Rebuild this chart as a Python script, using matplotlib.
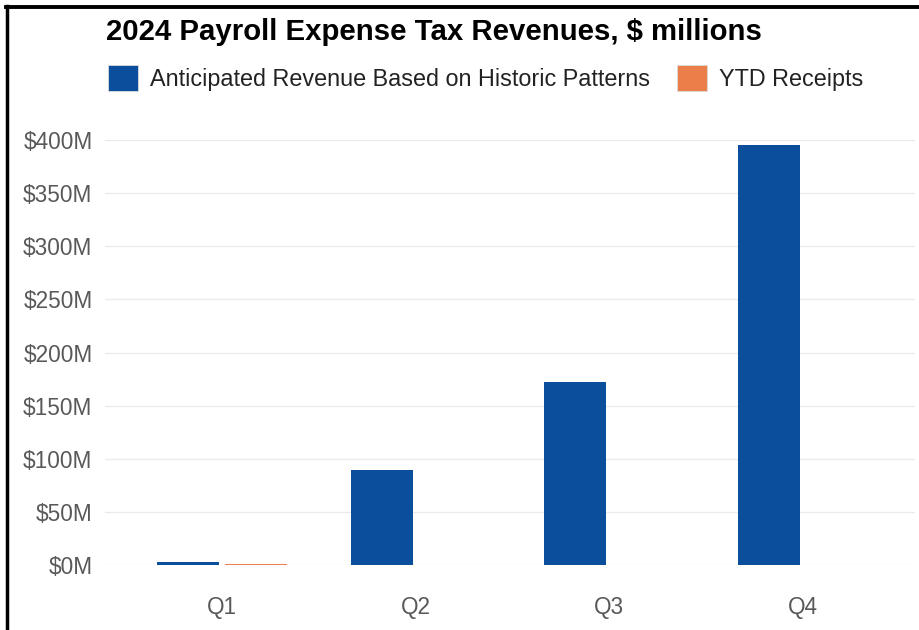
import matplotlib
matplotlib.use("Agg")
import matplotlib.pyplot as plt
from matplotlib.patches import Patch
from matplotlib.lines import Line2D
import numpy as np

quarters = ["Q1", "Q2", "Q3", "Q4"]
anticipated = [2.5, 89, 172, 395]
ytd_receipts = [1.2, 0, 0, 0]
y_ticks = [0, 50, 100, 150, 200, 250, 300, 350, 400]
y_tick_labels = ["$0M", "$50M", "$100M", "$150M", "$200M", "$250M", "$300M", "$350M", "$400M"]

BLUE = "#0b4f9c"
ORANGE = "#eb7f4a"
TICK_GRAY = "#595959"

plt.rcParams["font.family"] = ["Liberation Sans", "DejaVu Sans"]

W, H = 919, 630
fig = plt.figure(figsize=(W / 100, H / 100), dpi=100)
fig.patch.set_facecolor("white")

ax = fig.add_axes([105 / W, (H - 565) / H, (915 - 105) / W, (565 - 140) / H])

x = np.arange(len(quarters))
width = 0.32
offset = 0.176
ax.bar(x - offset, anticipated, width, color=BLUE, zorder=3)
ax.bar(x + offset, ytd_receipts, width, color=ORANGE, zorder=3)

ax.set_xlim(-0.604, 3.578)
ax.set_ylim(0, 400)
ax.set_yticks(y_ticks)
ax.set_yticklabels(y_tick_labels)
ax.set_xticks(x)
ax.set_xticklabels(quarters)
ax.tick_params(axis="y", length=0, pad=9, labelsize=16.3, labelcolor=TICK_GRAY)
ax.tick_params(axis="x", length=0, pad=22, labelsize=16.3, labelcolor=TICK_GRAY)
ax.grid(axis="y", color="#ebebeb", linewidth=1, zorder=0)
for s in ax.spines.values():
    s.set_visible(False)

fig.text(106 / W, 1 - 32 / H, "2024 Payroll Expense Tax Revenues, $ millions",
         fontsize=21.2, fontweight="bold", ha="left", va="center", color="black")

handles = [Patch(facecolor=BLUE, edgecolor="#dddddd", linewidth=0.6),
           Patch(facecolor=ORANGE, edgecolor="#dddddd", linewidth=0.6)]
fig.legend(handles, ["Anticipated Revenue Based on Historic Patterns", "YTD Receipts"],
           loc="center left", bbox_to_anchor=(108 / W, 1 - 78 / H), ncol=2,
           frameon=False, fontsize=16.8, borderpad=0, borderaxespad=0,
           handlelength=1.3, handleheight=1.3,
           handletextpad=0.5, columnspacing=1.15, labelcolor="#222222")

# frame lines along the top and left edges
fig.add_artist(Line2D([6 / W, 1], [1 - 7 / H, 1 - 7 / H], color="black", linewidth=2.8,
                      transform=fig.transFigure))
fig.add_artist(Line2D([7 / W, 7 / W], [0, 1 - 6 / H], color="black", linewidth=2.5,
                      transform=fig.transFigure))

fig.savefig("out.png", dpi=100)
